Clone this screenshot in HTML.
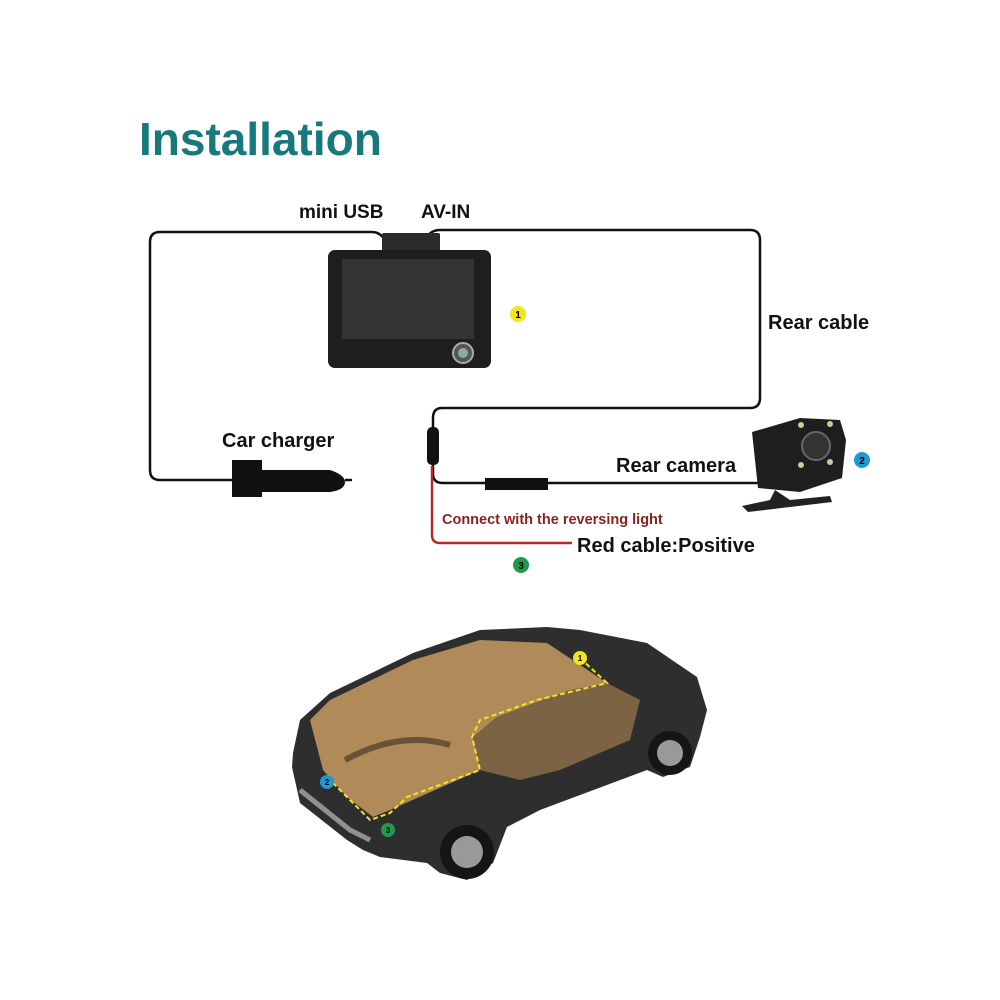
<!DOCTYPE html>
<html><head><style>
body{margin:0;width:1000px;height:1000px;background:#fff;position:relative;overflow:hidden;font-family:"Liberation Sans",sans-serif}
.t{position:absolute;font-weight:bold;white-space:nowrap;color:#111}
</style></head><body>
<div class="t" style="left:139px;top:112px;font-size:46px;color:#17797c">Installation</div>
<div class="t" style="left:299px;top:202px;font-size:19px">mini USB</div>
<div class="t" style="left:421px;top:202px;font-size:19px">AV-IN</div>
<div class="t" style="left:768px;top:312px;font-size:20px">Rear cable</div>
<div class="t" style="left:222px;top:430px;font-size:20px">Car charger</div>
<div class="t" style="left:616px;top:455px;font-size:20px">Rear camera</div>
<div class="t" style="left:442px;top:512px;font-size:14.5px;color:#8b1f1f">Connect with the reversing light</div>
<div class="t" style="left:577px;top:535px;font-size:20px">Red cable:Positive</div>
<svg width="1000" height="1000" style="position:absolute;left:0;top:0">
<g fill="none" stroke="#111" stroke-width="2.5">
<path d="M385 240 Q380 232 372 232 L160 232 Q150 232 150 242 L150 470 Q150 480 160 480 L232 480"/>
<path d="M425 240 Q430 230 440 230 L750 230 Q760 230 760 240 L760 398 Q760 408 750 408 L442 408 Q433 408 433 418 L433 428"/>
<path d="M433 462 L433 474 Q433 483 443 483 L760 483"/>
<path d="M345 480 L352 480"/>
</g>
<path d="M432 466 L432 535 Q432 543 440 543 L572 543" fill="none" stroke="#b32a2a" stroke-width="2.5"/>
<rect x="427" y="427" width="12" height="38" rx="5" fill="#111"/>
<rect x="485" y="478" width="63" height="12" fill="#111"/>
<rect x="382" y="233" width="58" height="20" rx="2" fill="#2a2a2a"/>
<rect x="328" y="250" width="163" height="118" rx="7" fill="#1e1e1e"/>
<rect x="342" y="259" width="132" height="80" fill="#333"/>
<circle cx="463" cy="353" r="10" fill="#555" stroke="#aaa" stroke-width="2"/>
<circle cx="463" cy="353" r="5" fill="#8aa"/>
<path d="M232 460 L262 460 L262 470 L330 470 Q345 475 345 482 Q345 490 330 492 L262 492 L262 497 L232 497 Z" fill="#111"/>
<path d="M752 432 L800 418 L840 420 L846 440 L842 478 L800 492 L758 488 Z" fill="#1e1e1e"/>
<circle cx="816" cy="446" r="14" fill="#333" stroke="#666" stroke-width="2"/>
<circle cx="801" cy="425" r="3" fill="#cc9"/><circle cx="830" cy="424" r="3" fill="#cc9"/>
<circle cx="801" cy="465" r="3" fill="#cc9"/><circle cx="830" cy="462" r="3" fill="#cc9"/>
<path d="M775 490 L790 500 L830 496 L832 502 L748 512 L742 506 L770 500 Z" fill="#222"/>
<circle cx="518" cy="314" r="8" fill="#f2e51c"/><text x="518" y="318" font-size="10" font-weight="bold" text-anchor="middle" font-family="Liberation Sans">1</text>
<circle cx="862" cy="460" r="8" fill="#1d9ad6"/><text x="862" y="464" font-size="10" font-weight="bold" text-anchor="middle" font-family="Liberation Sans">2</text>
<circle cx="521" cy="565" r="8" fill="#1e9a4c"/><text x="521" y="569" font-size="10" font-weight="bold" text-anchor="middle" font-family="Liberation Sans">3</text>
<!-- car -->
<path d="M293 753 L300 720 L330 693 L413 653 L480 630 L547 627 L580 630 L647 643 L697 677 L707 710 L700 737 L690 767 L663 777 L647 770 L540 810 L507 827 L493 863 L467 880 L440 873 L427 863 L380 857 L363 850 L347 840 L300 803 L292 767 Z" fill="#2e2e2e"/>
<path d="M310 720 L330 700 L413 660 L480 640 L547 643 L607 683 L570 690 L497 717 L473 737 L480 770 L390 810 L373 817 L347 797 L323 770 Z" fill="#b08a58"/>
<path d="M497 717 L570 690 L607 683 L640 700 L630 740 L560 770 L520 780 L480 770 L473 737 Z" fill="#8f7048" opacity="0.8"/>
<path d="M345 760 Q400 730 450 745" fill="none" stroke="#4a3c28" stroke-width="6" opacity="0.7"/>
<path d="M300 790 L350 830 L370 840" fill="none" stroke="#bbb" stroke-width="5" opacity="0.7"/>
<circle cx="467" cy="852" r="27" fill="#151515"/><circle cx="467" cy="852" r="16" fill="#999"/>
<circle cx="670" cy="753" r="22" fill="#151515"/><circle cx="670" cy="753" r="13" fill="#999"/>
<path d="M580 658 L607 683 L537 700 L480 720 L472 737 L480 770 L407 797 L390 813 L370 820 L347 797 L333 783" fill="none" stroke="#f2e51c" stroke-width="2" stroke-dasharray="5 3"/>
<circle cx="580" cy="658" r="7" fill="#f2e51c"/><text x="580" y="661" font-size="8" font-weight="bold" text-anchor="middle" font-family="Liberation Sans">1</text>
<circle cx="327" cy="782" r="7" fill="#1d9ad6"/><text x="327" y="785" font-size="8" font-weight="bold" text-anchor="middle" font-family="Liberation Sans">2</text>
<circle cx="388" cy="830" r="7" fill="#1e9a4c"/><text x="388" y="833" font-size="8" font-weight="bold" text-anchor="middle" font-family="Liberation Sans">3</text>
</svg>
</body></html>
